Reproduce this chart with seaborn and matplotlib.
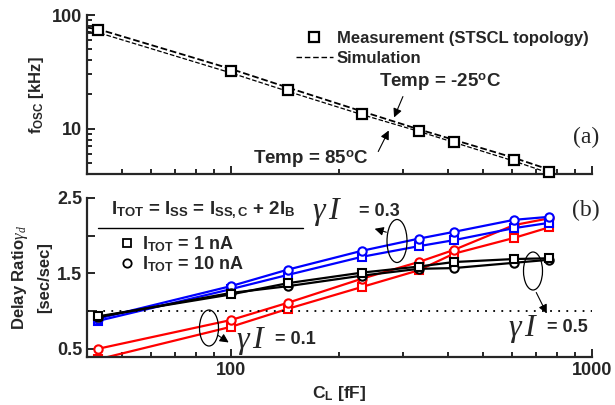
import matplotlib
matplotlib.use("Agg")
import matplotlib.pyplot as plt
import seaborn as sns
from matplotlib.lines import Line2D
from matplotlib.patches import Ellipse
from matplotlib.ticker import LogLocator, NullFormatter, FixedLocator, FixedFormatter

# ---- data ----
cap_meas = [43, 100, 144, 231, 331, 414, 608, 760]
fosc_meas = [73.6, 31.9, 21.9, 13.6, 9.6, 7.7, 5.3, 4.16]

cap_sim = [40, 43, 100, 144, 231, 331, 414, 608, 760, 790]
fosc_sim_m25 = [77.5, 75, 33.6, 23.0, 14.2, 9.9, 8.0, 5.55, 4.38, 4.22]
fosc_sim_85 = [71.5, 70, 31.0, 21.3, 13.3, 9.5, 7.6, 5.2, 4.08, 3.93]

cap_delay = [43, 100, 144, 231, 331, 414, 608, 760]
red_circ = [0.50, 0.88, 1.11, 1.43, 1.65, 1.81, 2.14, 2.23]
red_sq = [0.36, 0.79, 1.03, 1.32, 1.54, 1.76, 1.97, 2.11]
blue_circ = [0.90, 1.33, 1.55, 1.80, 1.96, 2.05, 2.21, 2.25]
blue_sq = [0.87, 1.29, 1.48, 1.72, 1.86, 1.94, 2.10, 2.17]
black_sq = [0.93, 1.22, 1.37, 1.51, 1.59, 1.65, 1.69, 1.70]
black_circ = [0.92, 1.24, 1.33, 1.47, 1.56, 1.57, 1.64, 1.68]

sns.set_style("ticks")
plt.rcParams["font.family"] = ["Liberation Sans", "DejaVu Sans"]
plt.rcParams["font.weight"] = "bold"
plt.rcParams["mathtext.fontset"] = "custom"
plt.rcParams["mathtext.rm"] = "Liberation Sans:bold"
plt.rcParams["mathtext.bf"] = "Liberation Sans:bold"
plt.rcParams["mathtext.it"] = "Liberation Serif:italic:normal"

W, H = 615, 405
fig = plt.figure(figsize=(6.15, 4.05), dpi=100)
ax1 = fig.add_axes([87 / W, 1 - 174 / H, 505 / W, 159 / H])
ax2 = fig.add_axes([87 / W, 1 - 357 / H, 505 / W, 159 / H])


def fx(px):
    return px / W


def fy(py):
    return 1 - py / H


for ax in (ax1, ax2):
    for s in ("top", "right"):
        ax.spines[s].set_visible(False)
    for s in ("left", "bottom"):
        ax.spines[s].set_linewidth(1.6)
    ax.set_xscale("log")
    ax.set_xlim(40, 1000)
    ax.tick_params(which="both", direction="in", width=1.4, labelsize=13)
    ax.tick_params(which="major", length=6)
    ax.tick_params(which="minor", length=3.5)
    ax.xaxis.set_major_locator(FixedLocator([100, 1000]))
    ax.xaxis.set_minor_locator(LogLocator(base=10, subs=range(2, 10)))
    ax.xaxis.set_minor_formatter(NullFormatter())

# ---- panel (a) ----
mk = dict(markerfacecolor="white", markeredgecolor="black", markeredgewidth=1.6)
sns.lineplot(x=cap_sim, y=fosc_sim_m25, ax=ax1, color="black", lw=1.3,
             dashes=(5, 2), linestyle="--")
sns.lineplot(x=cap_sim, y=fosc_sim_85, ax=ax1, color="black", lw=0.9,
             dashes=(3, 2), linestyle="--")
ax1.plot(cap_meas, fosc_meas, linestyle="none", marker="s", markersize=7, zorder=5,
         clip_on=False, **mk)
ax1.set_yscale("log")
ax1.set_ylim(4, 100)
ax1.yaxis.set_major_locator(FixedLocator([10, 100]))
ax1.yaxis.set_major_formatter(FixedFormatter(["10", "100"]))
ax1.yaxis.set_minor_locator(LogLocator(base=10, subs=range(2, 10)))
ax1.yaxis.set_minor_formatter(NullFormatter())
ax1.set_xticklabels([])
ax1.set_xlabel("")
ax1.set_ylabel("")

h_meas = Line2D([], [], linestyle="none", marker="s", markersize=7, **mk)
h_sim = Line2D([], [], color="black", lw=1.0, linestyle="--", dashes=(4, 2))
ax1.legend([h_meas, h_sim], ["Measurement (STSCL topology)", "Simulation"],
           loc="upper left", bbox_to_anchor=(fx(296), fy(31)), bbox_transform=fig.transFigure,
           frameon=False, fontsize=12, handlelength=2.2, handletextpad=0.25,
           labelspacing=0.3, borderpad=0, borderaxespad=0, markerfirst=True)
for t in ax1.get_legend().get_texts():
    t.set_fontweight("bold")

fig.text(fx(440), fy(82), "Temp = -25$^{\\mathrm{o}}$C", ha="center", va="center",
         fontsize=13.5, fontweight="bold")
fig.text(fx(311), fy(159), "Temp = 85$^{\\mathrm{o}}$C", ha="center", va="center",
         fontsize=13.5, fontweight="bold")
arrow = dict(arrowstyle="-|>", color="black", lw=0.8, mutation_scale=13)
ax1.annotate("", xy=(fx(393), fy(120)), xytext=(fx(404), fy(94)),
             xycoords="figure fraction", textcoords="figure fraction", arrowprops=arrow)
ax1.annotate("", xy=(fx(390), fy(128)), xytext=(fx(377), fy(154)),
             xycoords="figure fraction", textcoords="figure fraction", arrowprops=arrow)
fig.text(fx(586), fy(137), "(a)", ha="center", va="center", fontsize=17,
         family="Liberation Serif", fontweight="normal")

# ---- panel (b) ----
series = [
    (red_sq, "red", "s"), (red_circ, "red", "o"),
    (blue_sq, "blue", "s"), (blue_circ, "blue", "o"),
    (black_circ, "black", "o"), (black_sq, "black", "s"),
]
for vals, col, m in series:
    sns.lineplot(x=cap_delay, y=vals, ax=ax2, color=col, lw=1.6, marker=m,
                 markersize=6, markerfacecolor="white", markeredgecolor=col,
                 markeredgewidth=1.5)
ax2.axhline(1.0, color="black", linestyle=(0, (1, 3.5)), lw=1.3)
ax2.set_ylim(0.39, 2.5)
ax2.yaxis.set_major_locator(FixedLocator([0.5, 1.0, 1.5, 2.0, 2.5]))
ax2.yaxis.set_major_formatter(FixedFormatter(["0.5", "", "1.5", "", "2.5"]))
ax2.xaxis.set_major_formatter(FixedFormatter(["100", "1000"]))
ax2.set_xlabel("C$_{\\mathrm{L}}$ [fF]", fontsize=12.5, fontweight="bold", labelpad=4)
ax2.set_ylabel("")

fig.text(fx(36), fy(95), "f$_{\\mathrm{OSC}}$ [kHz]", rotation=90, ha="center", va="center",
         fontsize=12, fontweight="bold")
fig.text(fx(20), fy(278), "Delay Ratio$\\gamma_d$", rotation=90, ha="center", va="center",
         fontsize=12, fontweight="bold")
fig.text(fx(45), fy(278), "[sec/sec]", rotation=90, ha="center", va="center",
         fontsize=12, fontweight="bold")

# legend block
fig.text(fx(203), fy(210),
         "I$_{\\mathrm{TOT}}$ = I$_{\\mathrm{SS}}$ = I$_{\\mathrm{SS,C}}$ + 2I$_{\\mathrm{B}}$",
         ha="center", va="center", fontsize=13.5, fontweight="bold")
fig.add_artist(Line2D([fx(98), fx(303)], [fy(228), fy(228)], color="black", lw=1.0))
h_sq = Line2D([], [], linestyle="none", marker="s", markersize=6,
              markerfacecolor="white", markeredgecolor="black", markeredgewidth=1.3)
h_ci = Line2D([], [], linestyle="none", marker="o", markersize=6,
              markerfacecolor="white", markeredgecolor="black", markeredgewidth=1.3)
ax2.legend([h_sq, h_ci], ["I$_{\\mathrm{TOT}}$ = 1 nA", "I$_{\\mathrm{TOT}}$ = 10 nA"],
           loc="upper left", bbox_to_anchor=(fx(120), fy(234)), bbox_transform=fig.transFigure,
           frameon=False, fontsize=13, handlelength=0.8, handletextpad=0.4,
           labelspacing=0.05, borderpad=0, borderaxespad=0)
for t in ax2.get_legend().get_texts():
    t.set_fontweight("bold")

# gamma labels
for gx, eqx, py, txt in [(236, 275, 340, "= 0.1"), (312, 359, 211, "= 0.3"),
                         (508, 547, 328, "= 0.5")]:
    fig.text(fx(gx), fy(py + 1), "$\\gamma\\,I$", ha="left", va="center", fontsize=23,
             fontweight="normal")
    fig.text(fx(eqx), fy(py), txt, ha="left", va="center", fontsize=13,
             fontweight="bold")

for cx, cy, w, h in [(209, 328, 19, 36), (397, 241, 20, 43), (533, 271, 19, 38)]:
    fig.add_artist(Ellipse((fx(cx), fy(cy)), w / W, h / H, transform=fig.transFigure,
                           fill=False, edgecolor="black", lw=0.9))
for tail, tip in [((216, 334), (231, 344)), ((389, 233), (372, 228)),
                  ((535, 290), (548, 316))]:
    ax2.annotate("", xy=(fx(tip[0]), fy(tip[1])), xytext=(fx(tail[0]), fy(tail[1])),
                 xycoords="figure fraction", textcoords="figure fraction", arrowprops=arrow)
fig.text(fx(586), fy(210), "(b)", ha="center", va="center", fontsize=17,
         family="Liberation Serif", fontweight="normal")

fig.savefig("out.png", dpi=100)
